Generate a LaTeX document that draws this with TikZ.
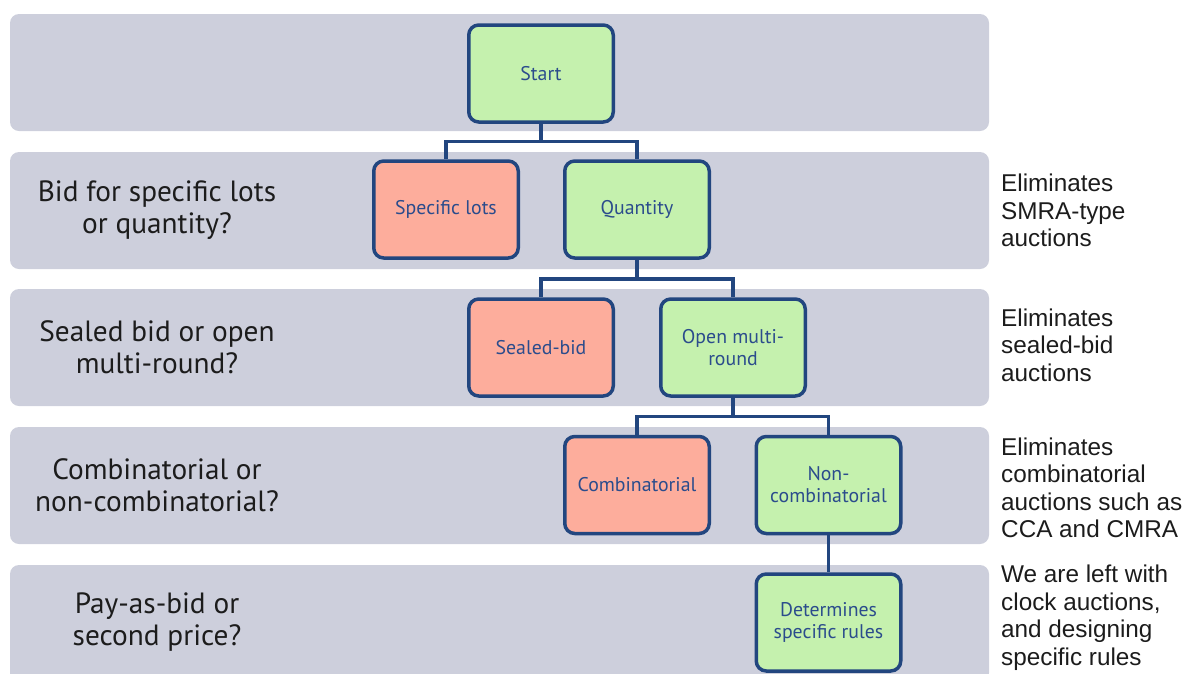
\documentclass[tikz,border=0pt]{standalone}
\usepackage{fontspec}
\newfontfamily\myr{PT Sans}
\newfontfamily\arl{Liberation Sans}
\definecolor{bandc}{HTML}{CDCFDC}
\definecolor{greenc}{HTML}{C5F1AE}
\definecolor{redc}{HTML}{FDAD9C}
\definecolor{bordc}{HTML}{22467F}
\definecolor{txtb}{HTML}{2B4C8C}
\definecolor{txtd}{HTML}{1C1C1C}
\tikzset{
  band/.style={fill=bandc, rounded corners=9pt, draw=none},
  boxbase/.style={draw=bordc, line width=3.5pt, rounded corners=10pt, minimum width=144.5pt, minimum height=97pt, inner sep=0pt, align=center, text=txtb, font=\myr\fontsize{19.8}{22}\selectfont},
  yesbox/.style={boxbase, fill=greenc},
  nobox/.style={boxbase, fill=redc},
  conn/.style={draw=bordc, line width=3.5pt},
  qlabel/.style={align=center, text=txtd, font=\myr\fontsize{29.3}{32}\selectfont, inner sep=0pt},
  note/.style={align=left, anchor=west, text=txtd, font=\arl\fontsize{24.3}{27.5}\selectfont, inner sep=0pt}
}
\begin{document}
\begin{tikzpicture}[x=1pt, y=-1pt]
\useasboundingbox (0,0) rectangle (1184,673);
\clip (0,0) rectangle (1184,673);
% bands
\fill[band] (10,14) rectangle (989,131);
\fill[band] (10,152) rectangle (989,269);
\fill[band] (10,289) rectangle (989,406);
\fill[band] (10,427) rectangle (989,544);
\fill[band] (10,565) rectangle (989,682);
% question labels
\node[qlabel] (q2) at (157,210.5) {Bid for specific lots\\or quantity?};
\node[qlabel] (q3) at (157,347.5) {Sealed bid or open\\multi-round?};
\node[qlabel] (q4) at (157,485.5) {Combinatorial or\\non-combinatorial?};
\node[qlabel] (q5) at (157,622.5) {Pay-as-bid or\\second price?};
% boxes
\node[yesbox] (start) at (541,73.5) {Start};
\node[nobox] (lots) at (446,209.5) {Specific lots};
\node[yesbox] (qty) at (637,209.5) {Quantity};
\node[nobox] (sealed) at (541,347.5) {Sealed-bid};
\node[yesbox] (open) at (733,347.5) {Open multi-\\round};
\node[nobox] (comb) at (637,485) {Combinatorial};
\node[yesbox] (noncomb) at (828.5,485) {Non-\\combinatorial};
\node[yesbox] (rules) at (828.5,622.5) {Determines\\specific rules};
% junctions
\coordinate (j1) at (541,141.5);
\coordinate (j2) at (637,279);
\coordinate (j3) at (733,416.5);
\draw[conn] (start.south) -- (j1);
\draw[conn] (j1) -| (lots.north);
\draw[conn] (j1) -| (qty.north);
\draw[conn] (qty.south) -- (j2);
\draw[conn] (j2) -| (sealed.north);
\draw[conn] (j2) -| (open.north);
\draw[conn] (open.south) -- (j3);
\draw[conn] (j3) -| (comb.north);
\draw[conn] (j3) -| (noncomb.north);
\draw[conn] (noncomb.south) -- (rules.north);
% notes
\node[note] (n2) at (1001,210.5) {Eliminates\\SMRA-type\\auctions};
\node[note] (n3) at (1001,345) {Eliminates\\sealed-bid\\auctions};
\node[note] (n4) at (1001,488) {Eliminates\\combinatorial\\auctions such as\\CCA and CMRA};
\node[note] (n5) at (1001,617.5) {We are left with\\clock auctions,\\and designing\\specific rules};
\end{tikzpicture}
\end{document}
